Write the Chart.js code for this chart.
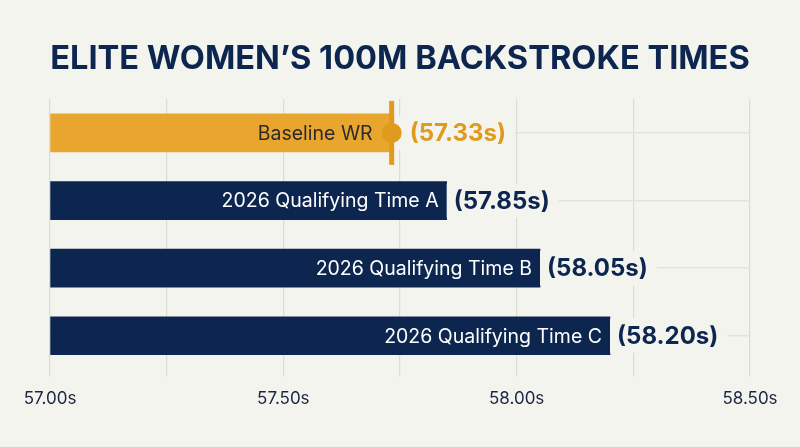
<!DOCTYPE html>
<html lang="en">
<head>
<meta charset="UTF-8" />
<title>Elite Women's 100m Backstroke Times</title>
<script src="https://cdn.jsdelivr.net/npm/chart.js"></script>
<style>
  html, body {
    margin: 0;
    padding: 0;
    background: #f4f4ef;
  }
  #wrap {
    width: 800px;
    height: 447px;
  }
</style>
</head>
<body>
<div id="wrap"><canvas id="timeChart"></canvas></div>

<script>
  // data
  const categories = ['Baseline WR', '2026 Qualifying Time A', '2026 Qualifying Time B', '2026 Qualifying Time C'];
  const barValues = [57.73, 57.85, 58.05, 58.20];
  const valueLabels = ['(57.33s)', '(57.85s)', '(58.05s)', '(58.20s)'];
  const axisMin = 57.00;
  const axisMax = 58.50;
  const tickStep = 0.25;

  const BG = '#f4f4ef';
  const NAVY = '#0d2650';
  const GOLD = '#e8a62e';
  const GOLD_DARK = '#e09b1c';

  const barColors = categories.map((c, i) => i === 0 ? GOLD : NAVY);

  // labels inside/after bars plus the marker on the baseline bar
  const barLabels = {
    id: 'barLabels',
    afterDatasetsDraw(chart) {
      const ctx = chart.ctx;
      const meta = chart.getDatasetMeta(0);
      ctx.save();
      ctx.textBaseline = 'middle';

      meta.data.forEach((bar, i) => {
        const end = bar.x;
        const y = bar.y;
        const first = i === 0;
        const valStart = end + (first ? 19 : 7);
        ctx.font = 'bold 24px Inter';
        const w = ctx.measureText(valueLabels[i]).width;
        // knock out grid lines behind the value label
        ctx.fillStyle = BG;
        ctx.fillRect(end, y - 17, valStart - end + w + 9, 34);

        if (first) {
          ctx.strokeStyle = GOLD_DARK;
          ctx.lineWidth = 5;
          ctx.beginPath();
          ctx.moveTo(end + 1, y - 32);
          ctx.lineTo(end + 1, y + 32);
          ctx.stroke();
          ctx.fillStyle = GOLD_DARK;
          ctx.beginPath();
          ctx.arc(end + 1, y, 10, 0, Math.PI * 2);
          ctx.fill();
        }

        ctx.textAlign = 'left';
        ctx.fillStyle = first ? GOLD_DARK : NAVY;
        ctx.fillText(valueLabels[i], valStart, y + 1);

        ctx.font = '19.5px Inter';
        ctx.textAlign = 'right';
        ctx.fillStyle = first ? '#2a2a2e' : '#ffffff';
        ctx.fillText(categories[i], end - (first ? 18 : 8), y + 1);
      });
      ctx.restore();
    }
  };

  const ctx = document.getElementById('timeChart').getContext('2d');

  new Chart(ctx, {
    type: 'bar',
    data: {
      labels: categories,
      datasets: [{
        data: barValues,
        base: axisMin,
        backgroundColor: barColors,
        borderWidth: 0,
        barThickness: 38
      }]
    },
    options: {
      indexAxis: 'y',
      responsive: true,
      maintainAspectRatio: false,
      animation: false,
      layout: {
        padding: { left: 50, right: 50, top: 0, bottom: 26 }
      },
      scales: {
        x: {
          min: axisMin,
          max: axisMax,
          border: { display: false },
          grid: {
            color: '#dcdcd5',
            lineWidth: 1.2,
            drawTicks: true,
            tickLength: 7,
            tickColor: '#dcdcd5'
          },
          ticks: {
            stepSize: tickStep,
            autoSkip: false,
            maxRotation: 0,
            padding: 12,
            color: '#1b2540',
            font: { family: 'Inter', size: 17 },
            callback: function(value) {
              const half = (value - axisMin) * 2;
              return Math.abs(half - Math.round(half)) < 1e-6 ? value.toFixed(2) + 's' : '';
            }
          }
        },
        y: {
          border: { display: false },
          grid: {
            offset: false,
            color: '#e3e3dd',
            lineWidth: 1.5,
            drawTicks: false
          },
          ticks: { display: false }
        }
      },
      plugins: {
        legend: { display: false },
        tooltip: { enabled: false },
        title: {
          display: true,
          text: 'ELITE WOMEN\u2019S 100M BACKSTROKE TIMES',
          color: NAVY,
          font: { family: 'Inter', size: 32.6, weight: 'bold' },
          padding: { top: 40, bottom: 20 }
        }
      }
    },
    plugins: [barLabels]
  });
</script>
</body>
</html>
